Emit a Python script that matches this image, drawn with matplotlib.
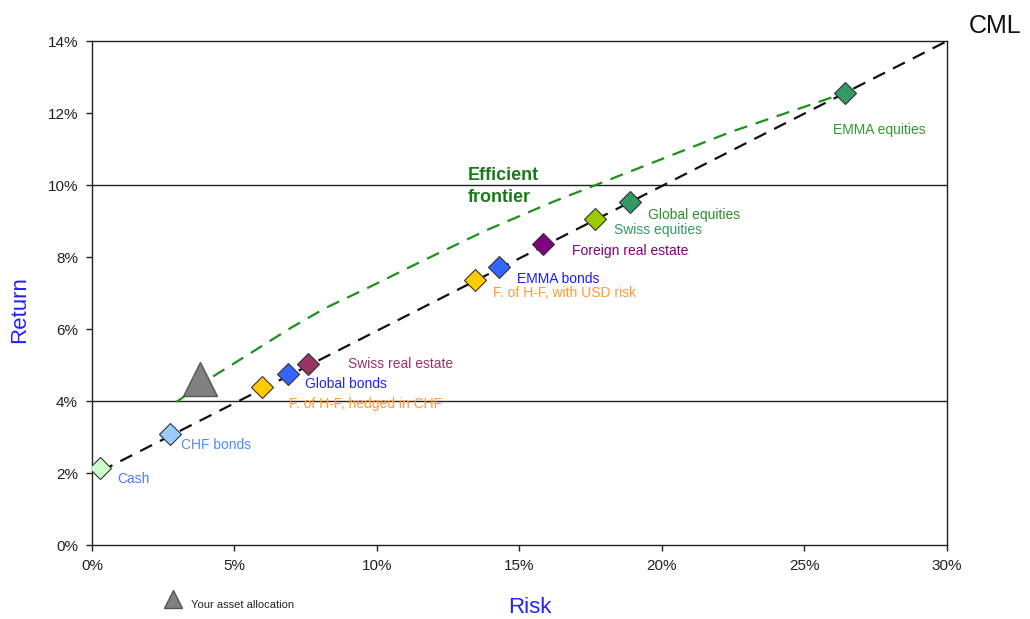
import matplotlib
matplotlib.use("Agg")
import matplotlib.pyplot as plt
from matplotlib.ticker import FuncFormatter, MultipleLocator

plt.rcParams['font.family'] = ['Liberation Sans', 'DejaVu Sans']

# ---- data (risk %, return %) ----
assets = ["Cash", "CHF bonds", "F. of H-F, hedged in CHF", "Global bonds",
          "Swiss real estate", "F. of H-F, with USD risk", "EMMA bonds",
          "Foreign real estate", "Swiss equities", "Global equities", "EMMA equities"]
risk = [0.28, 2.74, 5.96, 6.88, 7.58, 13.44, 14.28, 15.82, 17.65, 18.88, 26.42]
ret = [2.14, 3.08, 4.39, 4.75, 5.03, 7.36, 7.72, 8.36, 9.06, 9.53, 12.56]

cml_x = [0.3, 30.0]
cml_y = [2.05, 14.0]

frontier_x = [2.97, 4.14, 5.54, 6.95, 8.18, 9.64, 11.48, 13.85, 16.19, 22.39, 26.42]
frontier_y = [3.98, 4.63, 5.32, 6.02, 6.58, 7.13, 7.85, 8.75, 9.54, 11.47, 12.56]

alloc_x = [3.8]
alloc_y = [4.6]

# ---- styles ----
marker_colors = ["#ccffcc", "#99ccff", "#ffcc00", "#3366ff", "#993366", "#ffcc00",
                 "#3366ff", "#800080", "#99cc00", "#339966", "#339966"]
label_colors = ["#5577ff", "#4d8cff", "#ff9933", "#2222ff", "#993366", "#ff9933",
                "#1a1aff", "#800080", "#339966", "#2e8b2e", "#2e9a2e"]
label_offsets = [(17, -11), (11, -11), (27, -17), (17, -10), (40, 0), (18, -13),
                 (18, -12), (29, -7), (19, -11), (18, -13), (-12, -37)]

fig = plt.figure(figsize=(10.30, 6.19), dpi=100)
ax = fig.add_axes([0.0893, 0.1195, 0.830, 0.814])

ax.set_xlim(0, 30)
ax.set_ylim(0, 14)
ax.xaxis.set_major_locator(MultipleLocator(5))
ax.yaxis.set_major_locator(MultipleLocator(2))
ax.xaxis.set_major_formatter(FuncFormatter(lambda v, p: f"{v:.0f}%"))
ax.yaxis.set_major_formatter(FuncFormatter(lambda v, p: f"{v:.0f}%"))
ax.tick_params(axis='both', direction='out', length=4, width=1, labelsize=11,
               colors='#222222', pad=6)
for s in ax.spines.values():
    s.set_color('#222222')
    s.set_linewidth(1.0)

for gy in (4, 10):
    ax.axhline(gy, color='#222222', lw=1.0, zorder=1)

ax.plot(frontier_x, frontier_y, color='#1f8f1f', lw=1.6, dashes=(6, 4), zorder=2)
ax.plot(cml_x, cml_y, color='#111111', lw=1.6, dashes=(6, 4), zorder=3, clip_on=False)

ax.plot(alloc_x, alloc_y, marker='^', markersize=24, color='#808080',
        markeredgecolor='#555555', linestyle='none', zorder=4)

for i, name in enumerate(assets):
    ax.plot(risk[i], ret[i], marker='D', markersize=11, color=marker_colors[i],
            markeredgecolor='#333333', markeredgewidth=0.8, linestyle='none', zorder=5)
    ax.annotate(name, (risk[i], ret[i]), xytext=label_offsets[i], textcoords='offset pixels',
                fontsize=10, color=label_colors[i], ha='left', va='center', zorder=6)

ax.text(13.2, 9.96, "Efficient\nfrontier", fontsize=13, fontweight='bold', color='#1a7a1a',
        ha='left', va='center', linespacing=1.35)

fig.text(0.966, 0.958, "CML", fontsize=18, color='#111111', ha='center', va='center')
fig.text(0.514, 0.018, "Risk", fontsize=16, color='#2222ff', ha='center', va='center')
fig.text(0.019, 0.50, "Return", fontsize=16, color='#2222ff', ha='center', va='center',
         rotation=90)

fig.lines.append(matplotlib.lines.Line2D([0.168], [0.033], marker='^', markersize=13,
                                         color='#808080', markeredgecolor='#555555',
                                         transform=fig.transFigure, linestyle='none'))
fig.text(0.185, 0.022, "Your asset allocation", fontsize=8, color='#222222',
         ha='left', va='center')

fig.savefig("out.png", dpi=100)
